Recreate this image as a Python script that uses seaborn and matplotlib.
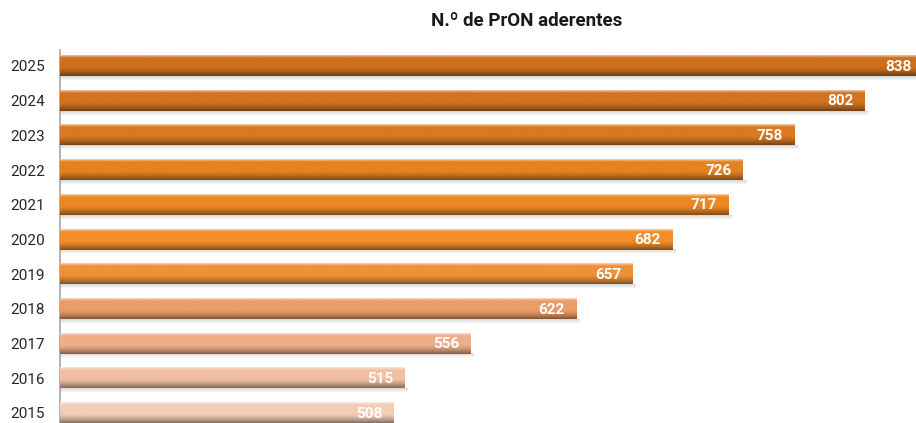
import numpy as np
import pandas as pd
import matplotlib
matplotlib.use("Agg")
import matplotlib.pyplot as plt
import matplotlib.colors as mcolors
import seaborn as sns

# chart data
years = ["2025", "2024", "2023", "2022", "2021", "2020", "2019", "2018", "2017", "2016", "2015"]
values = [838, 802, 758, 726, 717, 682, 657, 622, 556, 515, 508]
bar_colors = ["#CF6F1E", "#D2731F", "#D97A22", "#E5811F", "#EC8824", "#F18D2A",
              "#F09038", "#EC9C68", "#EDAE88", "#F1C0A2", "#F4CDB6"]
title = "N.º de PrON aderentes"

sns.set_theme(style="white")
plt.rcParams["font.family"] = ["Roboto", "DejaVu Sans"]

df = pd.DataFrame({"year": years, "value": values})

fig = plt.figure(figsize=(9.16, 4.23), dpi=100)
ax = fig.add_axes([60 / 916, 0, 856 / 916, 373 / 423])

sns.barplot(data=df, x="value", y="year", hue="year", palette=bar_colors,
            order=years, orient="h", width=0.58, legend=False, ax=ax)

# 3D-like shading: vertical gradient drawn inside each bar
for patch, col in zip(ax.patches, bar_colors):
    x0, y0 = patch.get_x(), patch.get_y()
    w, h = patch.get_width(), patch.get_height()
    base = np.array(mcolors.to_rgb(col))
    t = np.linspace(0, 1, 40)
    light = np.clip(0.6 - t * 5, 0, None)[:, None]
    dark = np.clip((t - 0.55) / 0.45, 0, 1)[:, None] ** 1.5 * 0.45
    rows = base * (1 - light) + light
    rows = rows * (1 - dark)
    img = np.repeat(rows[:, None, :], 2, axis=1)
    ax.imshow(img, extent=[x0, x0 + w, y0 + h, y0], aspect="auto",
              interpolation="bilinear", zorder=3)
    patch.set_facecolor("none")
    # soft shadow under the bar
    sh = np.linspace(0.35, 0.0, 20)
    shadow = np.zeros((20, 2, 4))
    shadow[..., :3] = 0.55
    shadow[..., 3] = sh[:, None]
    ax.imshow(shadow, extent=[x0 + 2, x0 + w + 2, y0 + h + 0.14, y0 + h],
              aspect="auto", interpolation="bilinear", zorder=2)
    ax.text(x0 + w - 7, y0 + h / 2 + 0.02, str(int(w)), ha="right", va="center",
            color="white", fontsize=11, fontweight="bold", zorder=4)

ax.set_xlim(300, 834)
ax.set_ylim(10.29, -0.46)

ax.set_xlabel("")
ax.set_ylabel("")
ax.set_xticks([])
ax.tick_params(axis="y", length=0, labelsize=11, labelcolor="#262626", pad=11)
for s in ["top", "right", "bottom"]:
    ax.spines[s].set_visible(False)
ax.spines["left"].set_color("#A6A6A6")
ax.spines["left"].set_linewidth(1.2)

fig.text(527 / 916, 1 - 21 / 423, title, ha="center", va="center",
         fontsize=13.5, fontweight="bold", color="#1a1a1a")

fig.savefig("out.png", dpi=100)
